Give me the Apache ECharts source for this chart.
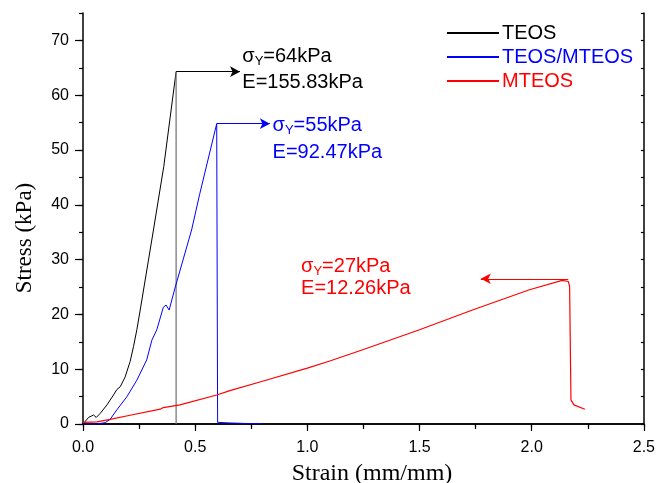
<!DOCTYPE html>
<html>
<head>
<meta charset="utf-8">
<script src="https://cdn.jsdelivr.net/npm/echarts@6/dist/echarts.min.js"></script>
<style>
  html, body { margin: 0; padding: 0; background: #fff; }
  #chart { width: 658px; height: 483px; }
</style>
</head>
<body>
<div id="chart"></div>
<script>
// values (strain in mm/mm, stress in kPa)
const teosStrain = [0, 0.025, 0.047, 0.055, 0.059, 0.077, 0.107, 0.136, 0.151, 0.166, 0.188, 0.21, 0.225, 0.24, 0.255, 0.314, 0.36, 0.415]
const teosStress = [0, 1.2, 1.65, 1.9, 1.2, 1.95, 3.5, 5.3, 6.3, 6.8, 8.6, 11.4, 14.1, 17.2, 20.8, 35.4, 47, 64.3]
const teosDropStrain = [0.415, 0.415]
const teosDropStress = [64.3, 0]

const mixStrain = [0, 0.062, 0.099, 0.121, 0.151, 0.196, 0.24, 0.284, 0.307, 0.329, 0.358, 0.37, 0.384, 0.41, 0.484, 0.521, 0.596, 0.598, 0.6, 0.65, 0.72, 0.8]
const mixStress = [0, 0, 0.25, 0.85, 2.6, 5.0, 8.0, 11.7, 15.3, 17.2, 21.3, 21.7, 20.8, 24.8, 35.4, 42.1, 54.8, 54.8, 0.3, 0.2, 0.1, 0.05]

const mteosStrain = [0, 0.062, 0.121, 0.21, 0.344, 0.358, 0.432, 0.596, 0.655, 0.8, 1.0, 1.1, 1.25, 1.5, 1.736, 1.99, 2.136, 2.163, 2.169, 2.175, 2.188, 2.237]
const mteosStress = [0.3, 0.4, 0.85, 1.6, 2.7, 3.0, 3.5, 5.3, 6.1, 7.8, 10.2, 11.5, 13.6, 17.2, 20.8, 24.5, 26.2, 26.0, 25.1, 4.4, 3.5, 2.7]

const seriesNames = ['TEOS', 'TEOS/MTEOS', 'MTEOS']
const seriesColors = ['#000000', '#0000ff', '#ff0000']

// yield point arrows: [startStrain, endStrain, stress]
const teosArrow = [0.415, 0.70, 64.3]
const mixArrow = [0.596, 0.833, 54.8]
const mteosArrow = [2.163, 1.773, 26.5]

// annotation texts and where they sit: [strain, stress]
const teosNotes = [['64kPa', 'E=155.83kPa'], [0.71, 67.0], [0.71, 62.4]]
const mixNotes = [['55kPa', 'E=92.47kPa'], [0.845, 54.4], [0.845, 49.6]]
const mteosNotes = [['27kPa', 'E=12.26kPa'], [0.972, 28.8], [0.972, 24.7]]

const xTicks = [0, 0.5, 1.0, 1.5, 2.0, 2.5]
const yTicks = [0, 10, 20, 30, 40, 50, 60, 70]

const sansFont = '"Liberation Sans", Arial, sans-serif'
const serifFont = '"Liberation Serif", "Times New Roman", serif'

const zip = (xs, ys) => xs.map((x, i) => [x, ys[i]])

const noteRich = (color) => ({
  s: { fontSize: 20, fontFamily: sansFont, color: color },
  sub: { fontSize: 13, fontFamily: sansFont, color: color, padding: [10, 0, 0, 0] },
  n: { fontSize: 20, fontFamily: sansFont, color: color }
})

const notePoints = (notes, color) => [
  {
    coord: notes[1],
    label: {
      formatter: '{s|σ}{sub|Y}{n|=' + notes[0][0] + '}',
      rich: noteRich(color)
    }
  },
  {
    coord: notes[2],
    label: {
      formatter: '{n|' + notes[0][1] + '}',
      rich: noteRich(color)
    }
  }
]

const arrowLine = (arrow, color) => ({
  silent: true,
  symbol: ['none', 'arrow'],
  symbolSize: [8, 10],
  label: { show: false },
  lineStyle: { color: color, width: 1, type: 'solid' },
  data: [[{ coord: [arrow[0], arrow[2]] }, { coord: [arrow[1], arrow[2]] }]]
})

const markPointBase = (notes, color) => ({
  silent: true,
  symbol: 'circle',
  symbolSize: 0,
  label: { show: true, position: 'right', distance: 0 },
  data: notePoints(notes, color)
})

const chartDom = document.getElementById('chart')
const chartInstance = echarts.init(chartDom)

const axisLine = { show: true, lineStyle: { color: '#000', width: 1.5 } }

const option = {
  animation: false,
  backgroundColor: '#fff',
  grid: { left: 83, right: 13, top: 13, bottom: 59 },
  legend: {
    orient: 'vertical',
    left: 442,
    top: 17,
    itemWidth: 52,
    itemHeight: 2,
    itemGap: 2,
    icon: 'rect',
    selectedMode: false,
    textStyle: { fontSize: 20, fontFamily: sansFont, lineHeight: 22, padding: [0, 0, 0, -2] },
    data: seriesNames.map((n, i) => ({ name: n, itemStyle: { color: seriesColors[i] }, textStyle: { color: seriesColors[i] } }))
  },
  xAxis: [
    {
      type: 'value', min: 0, max: 2.5, interval: 0.5, position: 'bottom',
      axisLine: axisLine,
      axisTick: { show: true, inside: false, length: 7, lineStyle: { color: '#000', width: 1.2 } },
      minorTick: { show: true, splitNumber: 2, length: 5, lineStyle: { color: '#000', width: 1.2 } },
      axisLabel: { color: '#000', fontSize: 16, fontFamily: sansFont, margin: 16, customValues: xTicks, formatter: v => v.toFixed(1) },
      splitLine: { show: false }
    },
    {
      type: 'value', min: 0, max: 2.5, interval: 0.25, position: 'top',
      axisLine: axisLine,
      axisTick: { show: true, inside: true, length: 3, lineStyle: { color: '#000', width: 1.2 } },
      axisLabel: { show: false },
      splitLine: { show: false }
    }
  ],
  yAxis: [
    {
      type: 'value', min: 0, max: 75, interval: 5, position: 'left',
      axisLine: axisLine,
      axisTick: { show: true, inside: false, length: 4, lineStyle: { color: '#000', width: 1.2 } },
      axisLabel: { color: '#000', fontSize: 16, fontFamily: sansFont, margin: 14, customValues: yTicks },
      splitLine: { show: false }
    },
    {
      type: 'value', min: 0, max: 75, interval: 5, position: 'left',
      axisLine: { show: false },
      axisTick: { show: true, inside: false, length: 8, customValues: yTicks, lineStyle: { color: '#000', width: 1.2 } },
      axisLabel: { show: false },
      splitLine: { show: false }
    },
    {
      type: 'value', min: 0, max: 75, interval: 5, position: 'right',
      axisLine: axisLine,
      axisTick: { show: true, inside: true, length: 3, lineStyle: { color: '#000', width: 1.2 } },
      axisLabel: { show: false },
      splitLine: { show: false }
    }
  ],
  graphic: [
    {
      type: 'text', x: 25, y: 238, rotation: Math.PI / 2,
      style: { text: 'Stress (kPa)', fill: '#000', font: '23px ' + serifFont, align: 'center', verticalAlign: 'middle' }
    },
    {
      type: 'text', x: 372, y: 474,
      style: { text: 'Strain (mm/mm)', fill: '#000', font: '24px ' + serifFont, align: 'center', verticalAlign: 'middle' }
    }
  ],
  series: [
    {
      name: seriesNames[0], type: 'line', showSymbol: false, symbol: 'none',
      data: zip(teosStrain, teosStress),
      lineStyle: { color: seriesColors[0], width: 1 },
      itemStyle: { color: seriesColors[0] },
      markLine: arrowLine(teosArrow, seriesColors[0]),
      markPoint: markPointBase(teosNotes, seriesColors[0])
    },
    {
      name: 'TEOS drop', type: 'line', showSymbol: false, symbol: 'none',
      data: zip(teosDropStrain, teosDropStress),
      lineStyle: { color: '#6e6e6e', width: 1.2 }
    },
    {
      name: seriesNames[1], type: 'line', showSymbol: false, symbol: 'none',
      data: zip(mixStrain, mixStress),
      lineStyle: { color: seriesColors[1], width: 1 },
      itemStyle: { color: seriesColors[1] },
      markLine: arrowLine(mixArrow, seriesColors[1]),
      markPoint: markPointBase(mixNotes, seriesColors[1])
    },
    {
      name: seriesNames[2], type: 'line', showSymbol: false, symbol: 'none',
      data: zip(mteosStrain, mteosStress),
      lineStyle: { color: seriesColors[2], width: 1.2 },
      itemStyle: { color: seriesColors[2] },
      markLine: arrowLine(mteosArrow, seriesColors[2]),
      markPoint: markPointBase(mteosNotes, seriesColors[2])
    }
  ]
}

chartInstance.setOption(option)
</script>
</body>
</html>
